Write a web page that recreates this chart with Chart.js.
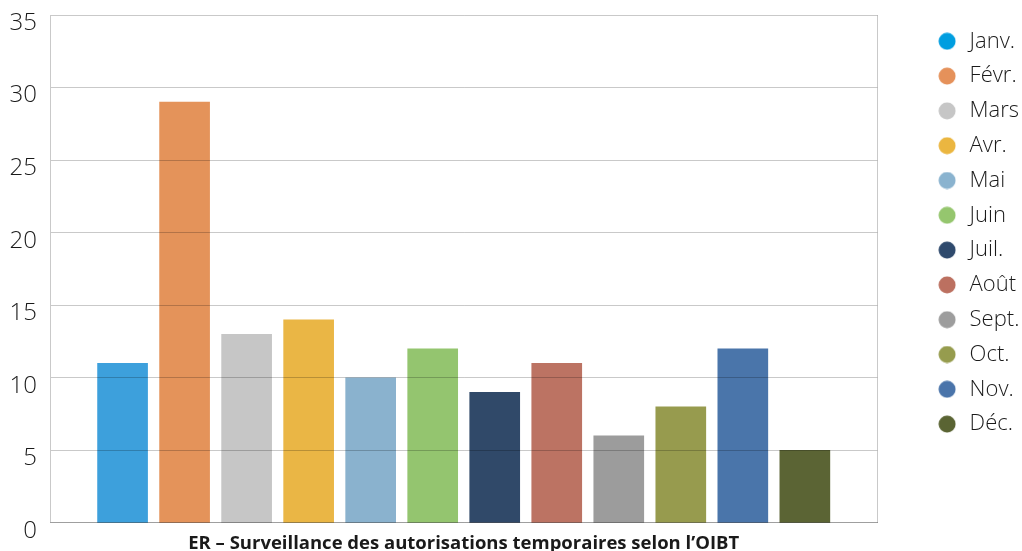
<!DOCTYPE html>
<html>
<head>
<meta charset="utf-8">
<script src="https://cdn.jsdelivr.net/npm/chart.js@4.4.1/dist/chart.umd.min.js"></script>
<style>
  html, body { margin: 0; padding: 0; background: #fff; }
  #wrap { width: 1022px; height: 551px; }
</style>
</head>
<body>
<div id="wrap"><canvas id="er_chart"></canvas></div>
<script>
const months = ['Janv.', 'Févr.', 'Mars', 'Avr.', 'Mai', 'Juin', 'Juil.', 'Août', 'Sept.', 'Oct.', 'Nov.', 'Déc.'];
const counts = [11, 29, 13, 14, 10, 12, 9, 11, 6, 8, 12, 5];
const yTicks = [0, 5, 10, 15, 20, 25, 30, 35];
const chartTitle = 'ER – Surveillance des autorisations temporaires selon l’OIBT';

const barColors = ['#3da0dc', '#e4935a', '#c6c6c6', '#eab645', '#8ab2ce', '#94c56f',
                   '#304969', '#bc7363', '#9c9c9c', '#979b4e', '#4a75aa', '#5b6434'];
const dotColors = ['#009ee0', '#e5915a', '#c6c6c6', '#ebb640', '#8ab3cf', '#95c66e',
                   '#2f4a6d', '#bc7060', '#9d9d9d', '#969c4e', '#4a74aa', '#5a6433'];

const lineGrey = 'rgba(0,0,0,0.21)';
const textColor = '#1a1a1a';

// round legend dot, drawn on a small canvas so the gap to the text can be set
function dot(color) {
  const c = document.createElement('canvas');
  c.width = 18; c.height = 18;
  const g = c.getContext('2d');
  g.fillStyle = color;
  g.beginPath();
  g.arc(9, 9, 8.5, 0, Math.PI * 2);
  g.fill();
  return c;
}

const datasets = months.map((m, i) => ({
  label: m,
  data: [{x: i + 1, y: counts[i]}],
  backgroundColor: barColors[i],
  borderWidth: 0,
  barThickness: 50,
  stack: 'all'
}));

new Chart(document.getElementById('er_chart'), {
  type: 'bar',
  data: {datasets: datasets},
  options: {
    responsive: true,
    maintainAspectRatio: false,
    animation: false,
    layout: {padding: {left: 10, right: -7.4, top: 0, bottom: 0}},
    scales: {
      x: {
        type: 'linear',
        offset: false,
        min: -0.17,
        max: 13.17,
        grid: {display: false, drawTicks: false},
        ticks: {display: false},
        border: {display: true, color: lineGrey, width: 1, z: 1},
        title: {
          display: true,
          text: chartTitle,
          color: textColor,
          font: {family: '"Open Sans", sans-serif', size: 18.5, weight: 'bold', lineHeight: 0.8},
          padding: {top: 13.3, bottom: 0}
        }
      },
      y: {
        min: 0,
        max: 35,
        afterBuildTicks: (axis) => { axis.ticks = yTicks.map(v => ({value: v})); },
        afterFit: (axis) => { axis.width = 40; },
        // grid drawn above the bars, as in the original
        grid: {color: lineGrey, lineWidth: 1, drawTicks: false, z: 1},
        border: {display: true, color: lineGrey, width: 1, z: 1},
        ticks: {
          color: textColor,
          padding: 13,
          labelOffset: 8,
          font: {family: '"Open Sans", sans-serif', size: 24, weight: 300, lineHeight: 0.17}
        }
      },
      // empty right axis: gives the right border of the plot and the gap before the legend
      y2: {
        position: 'right',
        grid: {display: false, drawTicks: false},
        ticks: {display: false},
        border: {display: true, color: lineGrey, width: 1},
        afterFit: (axis) => { axis.width = 45.4; }
      }
    },
    plugins: {
      legend: {
        position: 'right',
        align: 'start',
        title: {display: true, text: '', font: {size: 10, lineHeight: 1}, padding: {top: 7.5, bottom: 0}},
        labels: {
          usePointStyle: true,
          pointStyleWidth: 23,
          padding: 12.8,
          color: textColor,
          font: {family: '"Open Sans", sans-serif', size: 22, weight: 300},
          generateLabels: (chart) => {
            const items = Chart.defaults.plugins.legend.labels.generateLabels(chart);
            items.forEach((it, i) => { it.pointStyle = dot(dotColors[i]); });
            return items;
          }
        }
      },
      tooltip: {enabled: false}
    }
  }
});
</script>
</body>
</html>
